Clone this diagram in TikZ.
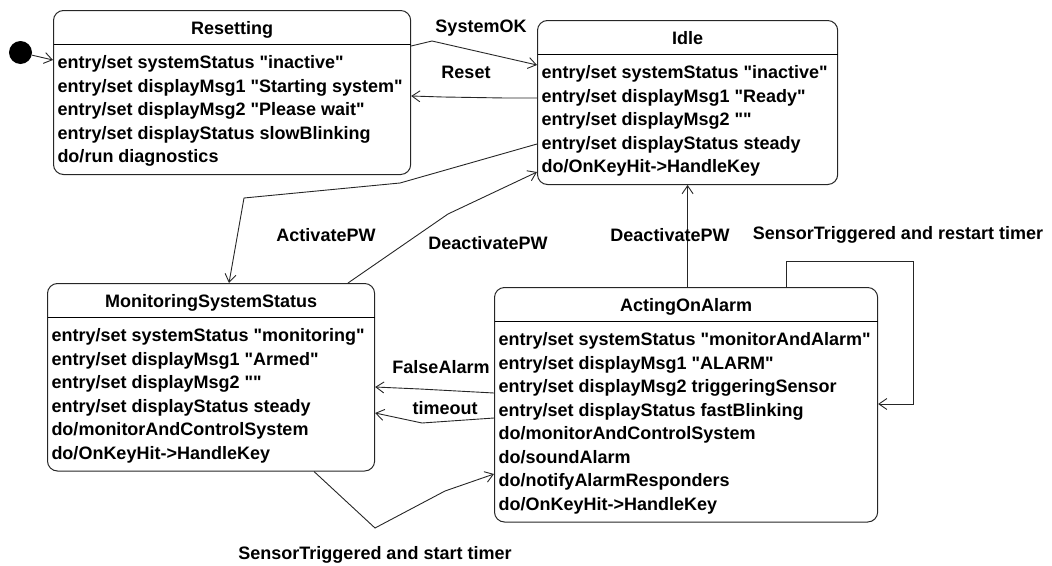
\documentclass[tikz,border=0pt]{standalone}
\usepackage{fontspec}
\setmainfont{Liberation Sans}[Ligatures=TeXOff]
\usepackage{array}
\usetikzlibrary{arrows.meta}

\setlength{\arrayrulewidth}{1pt}
\newcommand{\sttitle}[1]{\multicolumn{1}{@{}c@{}}{\rule[-10pt]{0pt}{33.5pt}#1}\\\hline}
\newcommand{\stfirst}{\rule{0pt}{23.5pt}}
\newcommand{\stlast}{\rule[-12pt]{0pt}{0pt}}

\begin{document}
\begin{tikzpicture}[x=1pt, y=-1pt,
    every node/.style={font=\bfseries\fontsize{18pt}{23.5pt}\selectfont},
    state/.style={draw=black!85, line width=1pt, rounded corners=10pt, inner sep=0pt, anchor=north west},
    initst/.style={circle, fill=black, minimum size=23pt, inner sep=0pt},
    lbl/.style={inner sep=0pt, text height=13pt, text depth=0pt},
    trans/.style={draw=black!85, line width=0.9pt, -{Straight Barb[length=8pt,width=11pt]}}]
  \useasboundingbox (0,0) rectangle (1052,565);

  % states
  \node[state] (resetting) at (53,10) {\begin{tabular}{@{\hspace{4pt}}l@{\hspace{8pt}}}
    \sttitle{Resetting}
    \stfirst entry/set systemStatus "inactive"\\
    entry/set displayMsg1 "Starting system"\\
    entry/set displayMsg2 "Please wait"\\
    entry/set displayStatus slowBlinking\\
    do/run diagnostics\stlast
  \end{tabular}};
  \node[state] (idle) at (537,20) {\begin{tabular}{@{\hspace{4pt}}l@{\hspace{10pt}}}
    \sttitle{Idle}
    \stfirst entry/set systemStatus "inactive"\\
    entry/set displayMsg1 "Ready"\\
    entry/set displayMsg2 ""\\
    entry/set displayStatus steady\\
    do/OnKeyHit->HandleKey\stlast
  \end{tabular}};
  \node[state] (monitor) at (47,283) {\begin{tabular}{@{\hspace{4pt}}l@{\hspace{10pt}}}
    \sttitle{MonitoringSystemStatus}
    \stfirst entry/set systemStatus "monitoring"\\
    entry/set displayMsg1 "Armed"\\
    entry/set displayMsg2 ""\\
    entry/set displayStatus steady\\
    do/monitorAndControlSystem\\
    do/OnKeyHit->HandleKey\stlast
  \end{tabular}};
  \node[state] (acting) at (494,287) {\begin{tabular}{@{\hspace{4pt}}l@{\hspace{7pt}}}
    \sttitle{ActingOnAlarm}
    \stfirst entry/set systemStatus "monitorAndAlarm"\\
    entry/set displayMsg1 "ALARM"\\
    entry/set displayMsg2 triggeringSensor\\
    entry/set displayStatus fastBlinking\\
    do/monitorAndControlSystem\\
    do/soundAlarm\\
    do/notifyAlarmResponders\\
    do/OnKeyHit->HandleKey\stlast
  \end{tabular}};
  \node[initst] (start) at (20.5,52.5) {};

  % transitions
  \draw[trans] (start) -- ([yshift=-50pt]resetting.north west);
  \draw[trans] ([yshift=-36pt]resetting.north east) -- (432,41) -- ([yshift=-45pt]idle.north west);
  \draw[trans] ([yshift=-78pt]idle.north west) -- (505,98) -- (443,97) -- ([yshift=-86pt]resetting.north east);
  \draw[trans] ([yshift=-124pt]idle.north west) -- (400,183) -- (244,198) -- ([xshift=182pt]monitor.north west);
  \draw[trans] ([xshift=301pt]monitor.north west) -- (448,214) -- ([yshift=-152pt]idle.north west);
  \draw[trans] (idle.south |- acting.north) -- (idle.south);
  \draw[trans] ([xshift=292pt]acting.north west) |- (913,261) |- ([yshift=-117pt]acting.north east);
  \draw[trans] ([yshift=-106pt]acting.north west) -- (420,389) -- ([yshift=-104pt]monitor.north east);
  \draw[trans] ([yshift=-131pt]acting.north west) -- (422,423) -- ([yshift=-130pt]monitor.north east);
  \draw[trans] ([xshift=267pt]monitor.south west) -- (375,528) -- (445,491) -- ([yshift=-187pt]acting.north west);

  % labels
  \node[lbl] (lsysok) at (481,26) {SystemOK};
  \node[lbl] (lreset) at (466,72) {Reset};
  \node[lbl] (lact) at (326,235) {ActivatePW};
  \node[lbl] (ldeact) at (488,243) {DeactivatePW};
  \node[lbl] (ldeact2) at (670,235) {DeactivatePW};
  \node[lbl] (lrestart) at (898,233) {SensorTriggered and restart timer};
  \node[lbl] (lfalse) at (441,367) {FalseAlarm};
  \node[lbl] (ltimeout) at (445,408) {timeout};
  \node[lbl] (lstart) at (375,553) {SensorTriggered and start timer};
\end{tikzpicture}
\end{document}
